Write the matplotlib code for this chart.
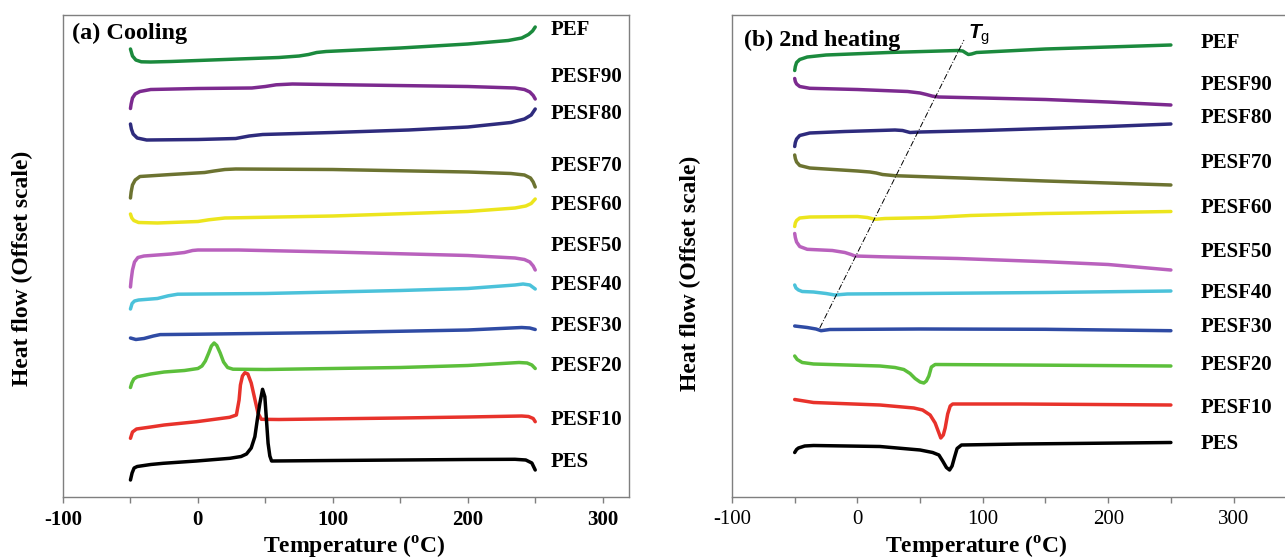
import matplotlib
matplotlib.use("Agg")
import matplotlib.pyplot as plt
from matplotlib.ticker import MultipleLocator

plt.rcParams['font.family'] = ['Liberation Serif', 'DejaVu Serif']
plt.rcParams['axes.unicode_minus'] = False
plt.rcParams['mathtext.fontset'] = 'custom'
plt.rcParams['mathtext.bf'] = 'Liberation Serif:bold'
plt.rcParams['mathtext.rm'] = 'Liberation Sans'
plt.rcParams['mathtext.it'] = 'Liberation Sans:italic:bold'

# Sample names, top to bottom
names = ['PEF', 'PESF90', 'PESF80', 'PESF70', 'PESF60', 'PESF50',
         'PESF40', 'PESF30', 'PESF20', 'PESF10', 'PES']
colors = ['#1b8a3d', '#7c2a8f', '#2e2b7d', '#6c7331', '#ece51d', '#b961bd',
          '#4bc2da', '#2f4ba4', '#5cbf3b', '#e8322b', '#000000']

# (a) Cooling: (temperature degC, offset heat flow, arbitrary units, down = larger)
cool_pef = [(-50, 49), (-48.5, 56), (-46, 60), (-42, 61.8), (-35, 62), (-20, 61.5),
            (0, 60.5), (30, 59), (60, 57.5), (75, 56), (82, 54.5), (88, 52.5),
            (95, 51.5), (150, 48), (200, 44), (230, 40.5), (240, 38), (245, 34.5),
            (248, 31), (250, 27)]
cool_pesf90 = [(-50, 108.5), (-49.5, 104), (-48.5, 98), (-46.5, 94), (-43, 91.5),
               (-35, 89.5), (0, 88.5), (40, 88), (50, 86.5), (58, 84.8), (70, 84),
               (120, 85), (200, 86.5), (235, 88), (242, 89.5), (246, 92),
               (248.5, 95.5), (250, 99)]
cool_pesf80 = [(-50, 124), (-49.3, 129), (-48, 134), (-45, 138), (-38, 140), (0, 139.5),
               (28, 138.5), (38, 136), (48, 134.5), (100, 132.5), (156, 130),
               (200, 127), (232, 122.5), (242, 119), (247, 115), (250, 109)]
cool_pesf70 = [(-50, 198), (-49.5, 192), (-48.5, 185), (-46.5, 180), (-43, 176.5),
               (-20, 174.5), (5, 172.5), (12, 171), (20, 169.5), (28, 169),
               (100, 169.5), (200, 172), (232, 173.5), (242, 175), (246.5, 178),
               (248.5, 182), (250, 187)]
cool_pesf60 = [(-50, 214), (-49, 218), (-47.5, 220.5), (-44, 222.5), (-30, 223),
               (0, 221.5), (8, 219.8), (20, 218), (100, 216), (156, 213.5),
               (200, 211.5), (235, 208), (243, 206), (247, 203.5), (250, 199)]
cool_pesf50 = [(-50, 287), (-49.5, 280), (-48.5, 270), (-47, 262), (-44.5, 257.5),
               (-40, 256), (-20, 254), (-10, 252.5), (-4, 250.5), (0, 250), (30, 250),
               (100, 252), (200, 255.5), (235, 258), (242, 259.5), (246, 262),
               (248.5, 266), (250, 270)]
cool_pesf40 = [(-50, 309), (-48.8, 303.5), (-47, 301), (-44, 300), (-30, 298.5),
               (-22, 295.8), (-15, 294.2), (50, 293.5), (150, 290.5), (200, 288.5),
               (235, 285), (241, 284), (246, 285), (250, 289)]
cool_pesf30 = [(-50, 338), (-46, 339.5), (-40, 338.5), (-33, 336), (-28, 334.6),
               (0, 334.2), (100, 332.5), (200, 330), (240, 327.5), (246, 328),
               (250, 329.5)]
cool_pesf20 = [(-50, 387.5), (-49, 383), (-47.5, 379), (-45, 376.8), (-35, 374),
               (-25, 372), (-10, 370.5), (0, 368.5), (3, 366), (5.5, 361), (8, 353),
               (10, 346), (12, 343), (14, 345.5), (16.5, 353), (19, 362), (22, 367.5),
               (26, 369.2), (50, 369.5), (150, 367.5), (200, 365.5), (238, 362.5),
               (244, 363), (247.5, 365), (250, 368.5)]
cool_pesf10 = [(-50, 438.3), (-48.5, 432), (-45.5, 429), (-35, 427), (-25, 425),
               (-1, 421.7), (23.5, 417.3), (28.5, 415), (30.5, 400), (31.5, 385),
               (33, 376), (34.8, 372.7), (37, 374), (39.5, 383), (42, 398),
               (44.5, 413), (47, 419.3), (60, 419.5), (150, 418), (200, 417),
               (240, 416), (245, 416.5), (248.5, 418.5), (250, 421.7)]
cool_pes = [(-50, 480), (-48.8, 473), (-47.3, 468), (-45, 466.5), (-35, 464.5),
            (-25.7, 463.3), (-1, 461), (23.7, 458.3), (32, 456.5), (36, 454),
            (39.5, 448), (42.2, 436.7), (44.2, 418), (45.9, 403.3), (47.9, 389.3),
            (49.6, 396.7), (50.8, 420), (52, 443.3), (53.3, 456), (54.6, 461),
            (100, 460.5), (200, 459.5), (235, 459.3), (243, 460), (247.5, 463),
            (250, 470)]

# (b) 2nd heating
heat_pef = [(-50, 70.5), (-49.5, 66.5), (-48.5, 62.5), (-46, 59.5), (-40, 57),
            (-25, 55), (25, 52.5), (80, 50.5), (84, 51), (86.5, 53), (88.5, 54.5),
            (91, 54), (95, 52.5), (150, 49), (250, 45)]
heat_pesf90 = [(-50, 78.5), (-49.5, 81.5), (-48.5, 84), (-46, 86.5), (-38, 88.3),
               (0, 89.5), (40, 91.5), (50, 93), (55, 94.5), (60, 96.2), (65, 97),
               (100, 98), (150, 99.5), (200, 102), (250, 105)]
heat_pesf80 = [(-50, 146.5), (-49.5, 142.5), (-48.5, 139), (-46, 135.5), (-38, 133),
               (-10, 131.5), (30, 130), (36, 130.5), (39, 131.5), (42, 132.5),
               (50, 132), (100, 130.5), (150, 128.5), (200, 126.5), (250, 124)]
heat_pesf70 = [(-50, 155), (-49.5, 158.5), (-48.5, 162), (-46, 165.5), (-38, 168),
               (0, 171), (10, 172), (15, 173), (20, 174.5), (30, 175.7), (90, 178.3),
               (150, 181), (250, 185)]
heat_pesf60 = [(-50, 226.5), (-49.5, 223), (-48.5, 220.5), (-46, 218), (-38, 217),
               (0, 216.5), (8, 217.5), (14, 219.3), (22, 218.5), (60, 217.5),
               (90, 215.5), (150, 213.5), (250, 211.5)]
heat_pesf50 = [(-50, 233.5), (-49.5, 237.5), (-48.5, 242), (-46, 246.5), (-40, 249.3),
               (-20, 250.5), (-10, 252.5), (-5, 254.5), (-2, 256), (20, 256.8),
               (80, 258.5), (150, 261.7), (200, 264.5), (250, 270)]
heat_pesf40 = [(-50, 285), (-49, 288), (-47, 290), (-44, 291.5), (-35, 292),
               (-25, 293.5), (-18, 295), (-8, 294), (50, 293.5), (150, 292.5),
               (250, 291)]
heat_pesf30 = [(-50, 326), (-40, 327.5), (-33, 329), (-29, 330.7), (-22, 329.5),
               (50, 329), (150, 329.3), (250, 330.7)]
heat_pesf20 = [(-50, 356), (-48, 359.5), (-44, 362.5), (-35, 364), (18, 366),
               (30, 367.5), (37, 369.5), (42, 373.5), (46, 378.5), (50, 382),
               (53, 383), (55, 381), (57, 376), (59, 367), (62, 364.5), (130, 365),
               (250, 366)]
heat_pesf10 = [(-50, 399.5), (-35, 402.5), (18, 405), (45, 408), (52, 410), (58, 415),
               (62, 423), (65, 433), (66.5, 438), (68.5, 435), (70, 428), (72, 414),
               (74, 406), (76, 404), (130, 404), (250, 405)]
heat_pes = [(-50, 452.5), (-48.5, 449.5), (-47, 448), (-42, 446), (-35, 445.5),
            (18, 446.5), (50, 450), (60, 452.5), (65, 455), (68, 461), (71, 467.5),
            (73.5, 470), (75.5, 466), (77.5, 457), (79.5, 448.5), (83, 445),
            (130, 444), (250, 442.5)]

# Tg guide line endpoints in panel (b)
tg_line = [(-30, 328), (85, 40)]

cooling = [cool_pef, cool_pesf90, cool_pesf80, cool_pesf70, cool_pesf60, cool_pesf50,
           cool_pesf40, cool_pesf30, cool_pesf20, cool_pesf10, cool_pes]
heating = [heat_pef, heat_pesf90, heat_pesf80, heat_pesf70, heat_pesf60, heat_pesf50,
           heat_pesf40, heat_pesf30, heat_pesf20, heat_pesf10, heat_pes]

# label heights (same units as curves)
cool_label_y = [30, 77, 114, 166, 205, 246, 285, 326, 366, 420, 462]
heat_label_y = [43, 85, 118, 163, 208, 252, 293, 327, 365, 408, 444]

fig = plt.figure(figsize=(12.85, 5.6), dpi=100)
ax1 = fig.add_axes([63 / 1285, 63 / 560, 566 / 1285, 482 / 560])
ax2 = fig.add_axes([732 / 1285, 63 / 560, 553 / 1285, 482 / 560])

spine_col = '#7f7f7f'


def style_axes(ax, xmax, bold):
    ax.set_xlim(-100, xmax)
    ax.set_ylim(497, 15)
    ax.set_yticks([])
    ax.xaxis.set_major_locator(MultipleLocator(100))
    ax.xaxis.set_minor_locator(MultipleLocator(50))
    ax.tick_params(axis='x', which='both', direction='out', length=4.5, width=1,
                   color=spine_col, pad=5, labelsize=15)
    for lab in ax.get_xticklabels():
        lab.set_fontweight('bold' if bold else 'normal')
    for sp in ax.spines.values():
        sp.set_color(spine_col)
        sp.set_linewidth(1.0)
    ax.set_xlabel('Temperature ($^{\\mathbf{o}}$C)', fontsize=17, fontweight='bold')
    ax.set_ylabel('Heat flow (Offset scale)', fontsize=17, fontweight='bold')
    ax.xaxis.label.set_verticalalignment('center')
    ax.yaxis.label.set_verticalalignment('center')


style_axes(ax1, 319.5, True)
style_axes(ax2, 341, False)
ax2.spines['right'].set_visible(False)

ax1.xaxis.set_label_coords(0.514, -0.104)
ax1.yaxis.set_label_coords(-0.071, 0.475)
ax2.xaxis.set_label_coords(0.441, -0.104)
ax2.yaxis.set_label_coords(-0.076, 0.463)

for data, c in zip(cooling, colors):
    ax1.plot([p[0] for p in data], [p[1] for p in data], color=c, lw=2.5,
             solid_capstyle='round', solid_joinstyle='round')
for data, c in zip(heating, colors):
    ax2.plot([p[0] for p in data], [p[1] for p in data], color=c, lw=2.5,
             solid_capstyle='round', solid_joinstyle='round')

for name, y in zip(names, cool_label_y):
    ax1.text(261.5, y, name, fontsize=15, fontweight='bold', ha='left', va='center')
for name, y in zip(names, heat_label_y):
    ax2.text(273.5, y, name, fontsize=15, fontweight='bold', ha='left', va='center')

ax2.plot([p[0] for p in tg_line], [p[1] for p in tg_line], color='black', lw=0.7,
         linestyle=(0, (6, 2, 1, 2)))
ax2.text(88, 35, '$\\mathit{T}_{\\mathrm{g}}$', fontsize=15, ha='left', va='center')

ax1.text(0.0154, 0.962, '(a) Cooling', transform=ax1.transAxes, fontsize=17.5,
         fontweight='bold', ha='left', va='center')
ax2.text(0.022, 0.948, '(b) 2nd heating', transform=ax2.transAxes, fontsize=17.3,
         fontweight='bold', ha='left', va='center')

fig.savefig('out.png', dpi=100)
